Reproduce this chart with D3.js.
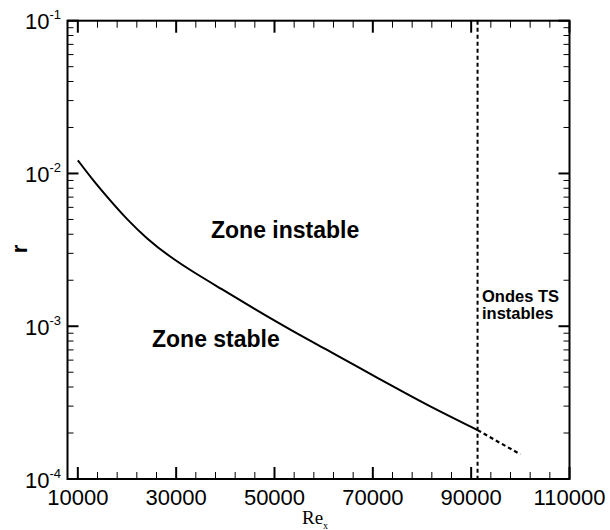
<!DOCTYPE html>
<html>
<head>
<meta charset="utf-8">
<script src="https://cdn.jsdelivr.net/npm/d3@7"></script>
<style>
  body { margin: 0; background: #fff; }
  svg { display: block; }
  text { font-family: "Liberation Sans", Arial, sans-serif; fill: #000; }
</style>
</head>
<body>
<svg id="chart" width="610" height="530"></svg>
<script>
// neutral curve r(Re_x)
const reValues = [10000, 13000, 16500, 20000, 24000, 28700, 33500, 39000, 45700, 53900, 60700, 67500, 74200, 81000, 91300];
const rValues = [1.22e-2, 9.1e-3, 6.7e-3, 5.0e-3, 3.75e-3, 2.85e-3, 2.26e-3, 1.77e-3, 1.31e-3, 9.2e-4, 7.0e-4, 5.3e-4, 4.02e-4, 3.05e-4, 2.09e-4];
// dashed continuation past the critical Reynolds number
const reExtra = [91300, 100000];
const rExtra = [2.09e-4, 1.45e-4];
const reCritical = 91300;

const xTicks = [10000, 30000, 50000, 70000, 90000, 110000];
const xMinor = d3.range(14000, 110000, 4000).filter(v => (v - 10000) % 20000 !== 0);
const yTicks = [1e-4, 1e-3, 1e-2, 1e-1];
const yExponents = ['-4', '-3', '-2', '-1'];
const yMinor = [1e-4, 1e-3, 1e-2].flatMap(d => d3.range(2, 10).map(k => k * d));

const svg = d3.select('#chart');
const margin = { left: 67.5, right: 569.5, top: 20.7, bottom: 479 };

const xScale = d3.scaleLinear().domain([7900, 110000]).range([margin.left, margin.right]);
const yScale = d3.scaleLog().domain([1e-4, 1e-1]).range([margin.bottom, margin.top]);

const g = svg.append('g');

// ticks on all four sides, pointing inward
const tick = (x1, y1, x2, y2, w) => g.append('line')
  .attr('x1', x1).attr('y1', y1).attr('x2', x2).attr('y2', y2)
  .attr('stroke', '#000').attr('stroke-width', w);

xTicks.forEach(v => {
  const x = xScale(v);
  tick(x, margin.bottom, x, margin.bottom - 12, 2);
  tick(x, margin.top, x, margin.top + 12, 2);
});
xMinor.forEach(v => {
  const x = xScale(v);
  tick(x, margin.bottom, x, margin.bottom - 7, 1);
  tick(x, margin.top, x, margin.top + 7, 1);
});
yTicks.forEach(v => {
  const y = yScale(v);
  tick(margin.left, y, margin.left + 11, y, 2);
  tick(margin.right, y, margin.right - 11, y, 2);
});
yMinor.forEach(v => {
  const y = yScale(v);
  tick(margin.left, y, margin.left + 6, y, 1);
  tick(margin.right, y, margin.right - 6, y, 1);
});

g.append('rect')
  .attr('x', margin.left).attr('y', margin.top)
  .attr('width', margin.right - margin.left).attr('height', margin.bottom - margin.top)
  .attr('fill', 'none').attr('stroke', '#000').attr('stroke-width', 2);

// tick labels
g.selectAll('.xlab').data(xTicks).enter().append('text')
  .attr('class', 'xlab')
  .attr('x', d => xScale(d))
  .attr('y', 505)
  .attr('text-anchor', 'middle')
  .attr('font-size', 22)
  .text(d => d);

const ylab = g.selectAll('.ylab').data(yTicks).enter().append('text')
  .attr('class', 'ylab')
  .attr('x', 61)
  .attr('y', d => yScale(d) + 8.5)
  .attr('text-anchor', 'end')
  .attr('font-size', 22);
ylab.append('tspan').text('10');
ylab.append('tspan')
  .attr('font-size', 13)
  .attr('dy', -10)
  .text((d, i) => yExponents[i]);

// axis titles
g.append('text')
  .attr('transform', 'translate(27, 249) rotate(-90)')
  .attr('text-anchor', 'middle')
  .attr('font-size', 22)
  .attr('font-weight', 'bold')
  .text('r');

const xt = g.append('text')
  .attr('x', 302)
  .attr('y', 524)
  .style('font-family', '"Liberation Serif", "Times New Roman", serif')
  .attr('font-size', 19);
xt.append('tspan').text('Re');
xt.append('tspan').attr('font-size', 10).attr('dy', 5).text('x');

// curve
const line = d3.line()
  .x(d => xScale(d[0]))
  .y(d => yScale(d[1]))
  .curve(d3.curveBasis);

g.append('path')
  .attr('d', line(d3.zip(reValues, rValues)))
  .attr('fill', 'none').attr('stroke', '#000').attr('stroke-width', 2);

g.append('path')
  .attr('d', line(d3.zip(reExtra, rExtra)))
  .attr('fill', 'none').attr('stroke', '#000').attr('stroke-width', 2.2)
  .attr('stroke-dasharray', '4,3');

g.append('line')
  .attr('x1', xScale(reCritical)).attr('x2', xScale(reCritical))
  .attr('y1', margin.top).attr('y2', margin.bottom)
  .attr('stroke', '#000').attr('stroke-width', 2)
  .attr('stroke-dasharray', '4,3');

// region labels
const note = (x, y, size, str) => g.append('text')
  .attr('x', x).attr('y', y)
  .attr('font-size', size).attr('font-weight', 'bold')
  .text(str);
note(211, 238, 23, 'Zone instable');
note(152, 347, 23, 'Zone stable');
note(482, 302, 16.5, 'Ondes TS');
note(482, 319, 16.5, 'instables');
</script>
</body>
</html>
